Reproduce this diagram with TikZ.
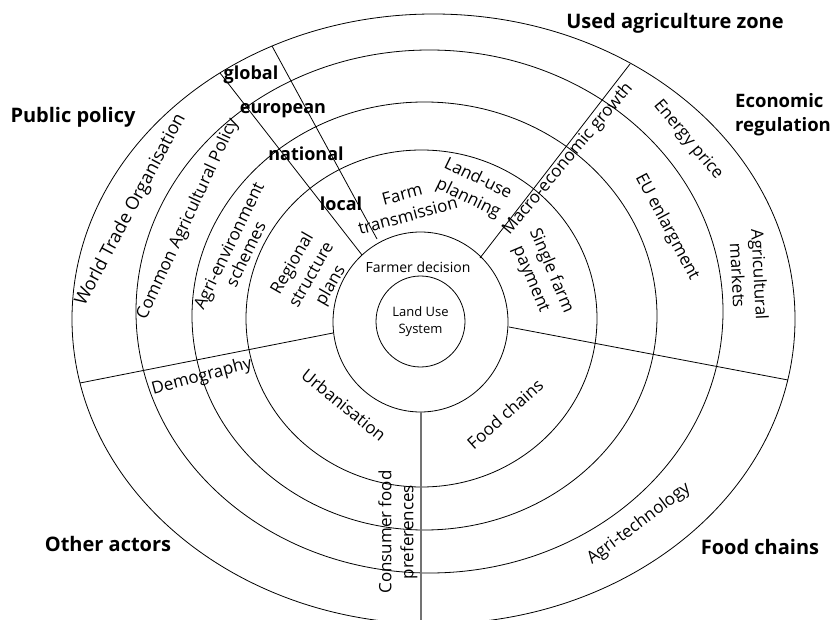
\documentclass[tikz,border=0pt]{standalone}
\usepackage{fontspec}
\setmainfont{Open Sans}
\begin{document}
\begin{tikzpicture}[x=1pt,y=-1pt,
  ring/.style={line width=0.8pt},
  sep/.style={line width=0.8pt},
  lab/.style={font=\fontsize{17}{22}\selectfont, align=center, inner sep=0pt},
  small/.style={font=\fontsize{13}{17}\selectfont, align=center, inner sep=0pt},
  zone/.style={font=\bfseries\fontsize{20}{25}\selectfont, align=left, inner sep=0pt},
  lvl/.style={font=\bfseries\fontsize{18}{22}\selectfont, inner sep=0pt}]
\useasboundingbox (0,0) rectangle (833,620);
% rings
\draw[ring] (420.5,321.5) ellipse [x radius=44.5pt, y radius=45.5pt];
\draw[ring] (420.5,322) ellipse [x radius=87.5pt, y radius=90pt];
\draw[ring] (421.5,318.5) ellipse [x radius=175.5pt, y radius=168.5pt];
\draw[ring] (424.5,316) ellipse [x radius=232.5pt, y radius=214pt];
\draw[ring] (429.5,311.5) ellipse [x radius=293.5pt, y radius=261.5pt];
\draw[ring] (433.5,319) ellipse [x radius=361.5pt, y radius=305pt];
% separator end points
\coordinate (a1) at (362,255); \coordinate (a2) at (220,73);
\coordinate (b1) at (377,239); \coordinate (b2) at (272,46);
\coordinate (c1) at (480,258); \coordinate (c2) at (630,64);
\coordinate (d1) at (509,327); \coordinate (d2) at (788,380);
\coordinate (e1) at (333,333); \coordinate (e2) at (80,383);
\coordinate (f1) at (421,412); \coordinate (f2) at (421,625);
\draw[sep] (a1) -- (a2);
\draw[sep] (b1) -- (b2);
\draw[sep] (c1) -- (c2);
\draw[sep] (d1) -- (d2);
\draw[sep] (e1) -- (e2);
\draw[line width=1.3pt, draw=black!55] (f1) -- (f2);
% centre
\node[small] (lus) at (420.5,322) {Land Use\\System};
\node[small, font=\fontsize{14}{17}\selectfont] (fd) at (418,267) {Farmer decision};
% ring 3
\node[lab, rotate=60] (rsp) at (312,275) {Regional\\structure\\plans};
\node[lab, rotate=15] (ft) at (405,205) {Farm\\transmission};
\node[lab, rotate=-26] (lup) at (473,189) {Land-use\\planning};
\node[lab, rotate=-67] (sfp) at (541,275) {Single farm\\payment};
\node[lab, rotate=-39] (urb) at (344,405) {Urbanisation};
\node[lab, rotate=42] (fc) at (505,414) {Food chains};
% ring 4
\node[lab, rotate=64, font=\fontsize{17}{19}\selectfont] (aes) at (237,250) {Agri-environment\\schemes};
\node[lab, rotate=50] (meg) at (568,159) {Macro-economic growth};
% ring 5
\node[lab, rotate=65] (cap) at (188,219) {Common Agricultural Policy};
\node[lab, rotate=-62] (eue) at (667,227) {EU enlargment};
\node[lab, rotate=15] (dem) at (202,377) {Demography};
\node[lab, rotate=90] (cfp) at (398,532) {Consumer food\\preferences};
% ring 6
\node[lab, rotate=62, font=\fontsize{18}{22}\selectfont] (wto) at (131,210) {World Trade Organisation};
\node[lab, rotate=-50] (ep) at (688,140) {Energy price};
\node[lab, rotate=-87] (am) at (749,275) {Agricultural\\markets};
\node[lab, rotate=37] (at) at (639,524) {Agri-technology};
% levels
\node[lvl] (glo) at (251,75) {global};
\node[lvl] (eur) at (283,111) {european};
\node[lvl] (nat) at (306,154) {national};
\node[lvl] (loc) at (341,204) {local};
% zones
\node[zone] (uaz) at (675,23) {Used agriculture zone};
\node[zone, anchor=west, font=\bfseries\fontsize{18.5}{24}\selectfont] (er) at (735,115) {Economic\\regulation};
\node[zone] (pp) at (73,117) {Public policy};
\node[zone] (oa) at (108,544) {Other actors};
\node[zone] (fcz) at (760,547) {Food chains};
\end{tikzpicture}
\end{document}
